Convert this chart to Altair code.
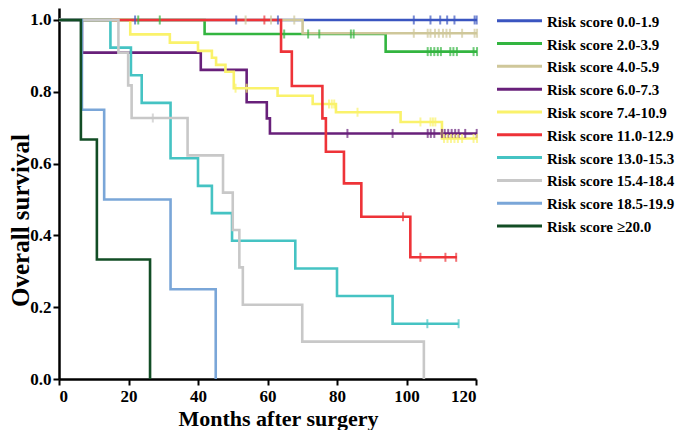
import altair as alt
import pandas as pd

groups = ["Risk score 0.0-1.9", "Risk score 2.0-3.9", "Risk score 4.0-5.9",
          "Risk score 6.0-7.3", "Risk score 7.4-10.9", "Risk score 11.0-12.9",
          "Risk score 13.0-15.3", "Risk score 15.4-18.4", "Risk score 18.5-19.9",
          "Risk score \u226520.0"]
colors = ["#3a55c0", "#33b540", "#cfc79a", "#68207a", "#faf26b",
          "#ee3338", "#45c3c3", "#c8c8c8", "#7aa6d8", "#124d25"]

step_times = [
    [0, 120.3],
    [0, 41.9, 94, 120.3],
    [0, 70.1, 120.3],
    [0, 6.6, 40.8, 54, 59.8, 60.7, 120.3],
    [0, 20.5, 31.9, 40, 44, 45.2, 47.9, 50.3, 62.9, 73, 79.7, 98.3, 110.2, 120.3],
    [0, 63.9, 67, 75.8, 76.8, 82, 87, 101.1, 114.5],
    [0, 14.8, 20.7, 23.8, 32.1, 40, 44, 49.8, 68, 80, 96, 115],
    [0, 17.1, 19.9, 20.9, 37, 47.2, 50, 51.9, 52.9, 70, 105],
    [0, 6.6, 13, 32.1, 45.1],
    [0, 6.3, 10.9, 26.2],
]
step_surv = [
    [1, 1],
    [1, .961, .912, .912],
    [1, .963, .963],
    [1, .909, .861, .771, .726, .684, .684],
    [1, .96, .937, .914, .895, .875, .856, .81, .789, .766, .743, .716, .67, .67],
    [1, .912, .816, .726, .633, .545, .452, .339, .339],
    [1, .923, .846, .769, .615, .538, .462, .385, .308, .231, .154, .154],
    [1, .909, .818, .727, .623, .519, .415, .311, .207, .104, 0],
    [1, .75, .5, .25, 0],
    [1, .667, .333, 0],
]
censor_times = [
    [21.9, 51, 63, 102.1, 106.9, 109.7, 111.7, 113.8, 119.6, 120.2],
    [22.8, 29, 64.8, 71.7, 74.9, 84, 84.8, 106.1, 107, 108, 109, 109.9, 112.6, 113.5, 114.5, 119.3, 120.3],
    [53.7, 61, 67.7, 102.1, 106.1, 106.9, 108.2, 109.3, 110.5, 111.5, 112.5, 116, 119.6, 120.3],
    [83, 96, 106.1, 107, 108, 110.2, 111, 112, 113, 114, 115, 116.9, 120.2],
    [50.8, 54, 77.7, 78.5, 79.2, 85.9, 104, 106.9, 107.6, 108.3, 110.8, 111.8, 112.8, 113.8, 114.8, 116, 119.3, 120.3],
    [59.1, 99, 104, 111.2, 114.3],
    [106, 115],
    [27],
    [],
    [],
]

y_ticks = [0.0, 0.2, 0.4, 0.6, 0.8, 1.0]
x_ticks = [0, 20, 40, 60, 80, 100, 120]

line_rows = []
for g, ts, ss in zip(groups, step_times, step_surv):
    for t, s in zip(ts, ss):
        line_rows.append({"group": g, "time": t, "surv": s})
line_df = pd.DataFrame(line_rows)


def surv_at(ts, ss, t):
    v = ss[0]
    for tt, s in zip(ts, ss):
        if tt <= t:
            v = s
    return v


cens_rows = []
for g, ts, ss, cs in zip(groups, step_times, step_surv, censor_times):
    for c in cs:
        cens_rows.append({"group": g, "time": c, "surv": surv_at(ts, ss, c)})
cens_df = pd.DataFrame(cens_rows)
legend_df = pd.DataFrame({"group": groups})

x_scale = alt.Scale(domain=[0, 120], nice=False)
y_scale = alt.Scale(domain=[0, 1.0334], nice=False, zero=True)
color_scale = alt.Scale(domain=groups, range=colors)
legend_y_scale = alt.Scale(type="point", domain=groups, range=[12.7, 218], padding=0)

x_enc = alt.X("time:Q", scale=x_scale,
              axis=alt.Axis(values=x_ticks, title="Months after surgery",
                            labelFont="Liberation Serif", labelFontSize=17,
                            labelFontWeight="bold", labelPadding=3,
                            titleFont="Liberation Serif", titleFontSize=22,
                            titleFontWeight="bold", titleX=219, titleY=46,
                            titleBaseline="alphabetic"))
y_enc = alt.Y("surv:Q", scale=y_scale,
              axis=alt.Axis(values=y_ticks, format=".1f", title="Overall survival",
                            labelFont="Liberation Serif", labelFontSize=17,
                            labelFontWeight="bold", labelPadding=2,
                            titleFont="Liberation Serif", titleFontSize=25,
                            titleFontWeight="bold", titleX=-39, titleY=212,
                            titleAngle=-90, titleAlign="center",
                            titleBaseline="middle"))
color_nolegend = alt.Color("group:N", scale=color_scale, sort=groups, legend=None)

lines = alt.Chart(line_df).mark_line(interpolate="step-after", strokeWidth=2.6).encode(
    x=x_enc, y=y_enc, color=color_nolegend, detail="group:N"
)
ticks = alt.Chart(cens_df).mark_tick(orient="vertical", size=9, thickness=2).encode(
    x=alt.X("time:Q", scale=x_scale), y=alt.Y("surv:Q", scale=y_scale),
    color=color_nolegend
)
legend_lines = alt.Chart(legend_df).mark_rule(strokeWidth=3).encode(
    x=alt.value(438), x2=alt.value(483),
    y=alt.Y("group:N", scale=legend_y_scale, axis=None),
    color=color_nolegend
)
legend_text = alt.Chart(legend_df).mark_text(
    align="left", baseline="middle", font="Liberation Serif", fontSize=15,
    fontWeight="bold", color="black", dy=1
).encode(
    x=alt.value(488),
    y=alt.Y("group:N", scale=legend_y_scale, axis=None),
    text="group:N"
)

main = alt.layer(lines, ticks)
leg = alt.layer(legend_lines, legend_text)

chart = alt.layer(main, leg).resolve_scale(y="independent").properties(
    width=417, height=371,
    padding={"left": 51, "top": 0, "right": 201, "bottom": 51},
    autosize=alt.AutoSizeParams(type="none"),
).configure_view(stroke=None).configure_axis(
    grid=False, domainColor="black", domainWidth=2.5, tickColor="black",
    tickWidth=2, tickSize=6, labelColor="black", titleColor="black"
)

chart.save("out.html", embed_options={"renderer": "svg", "actions": False})
